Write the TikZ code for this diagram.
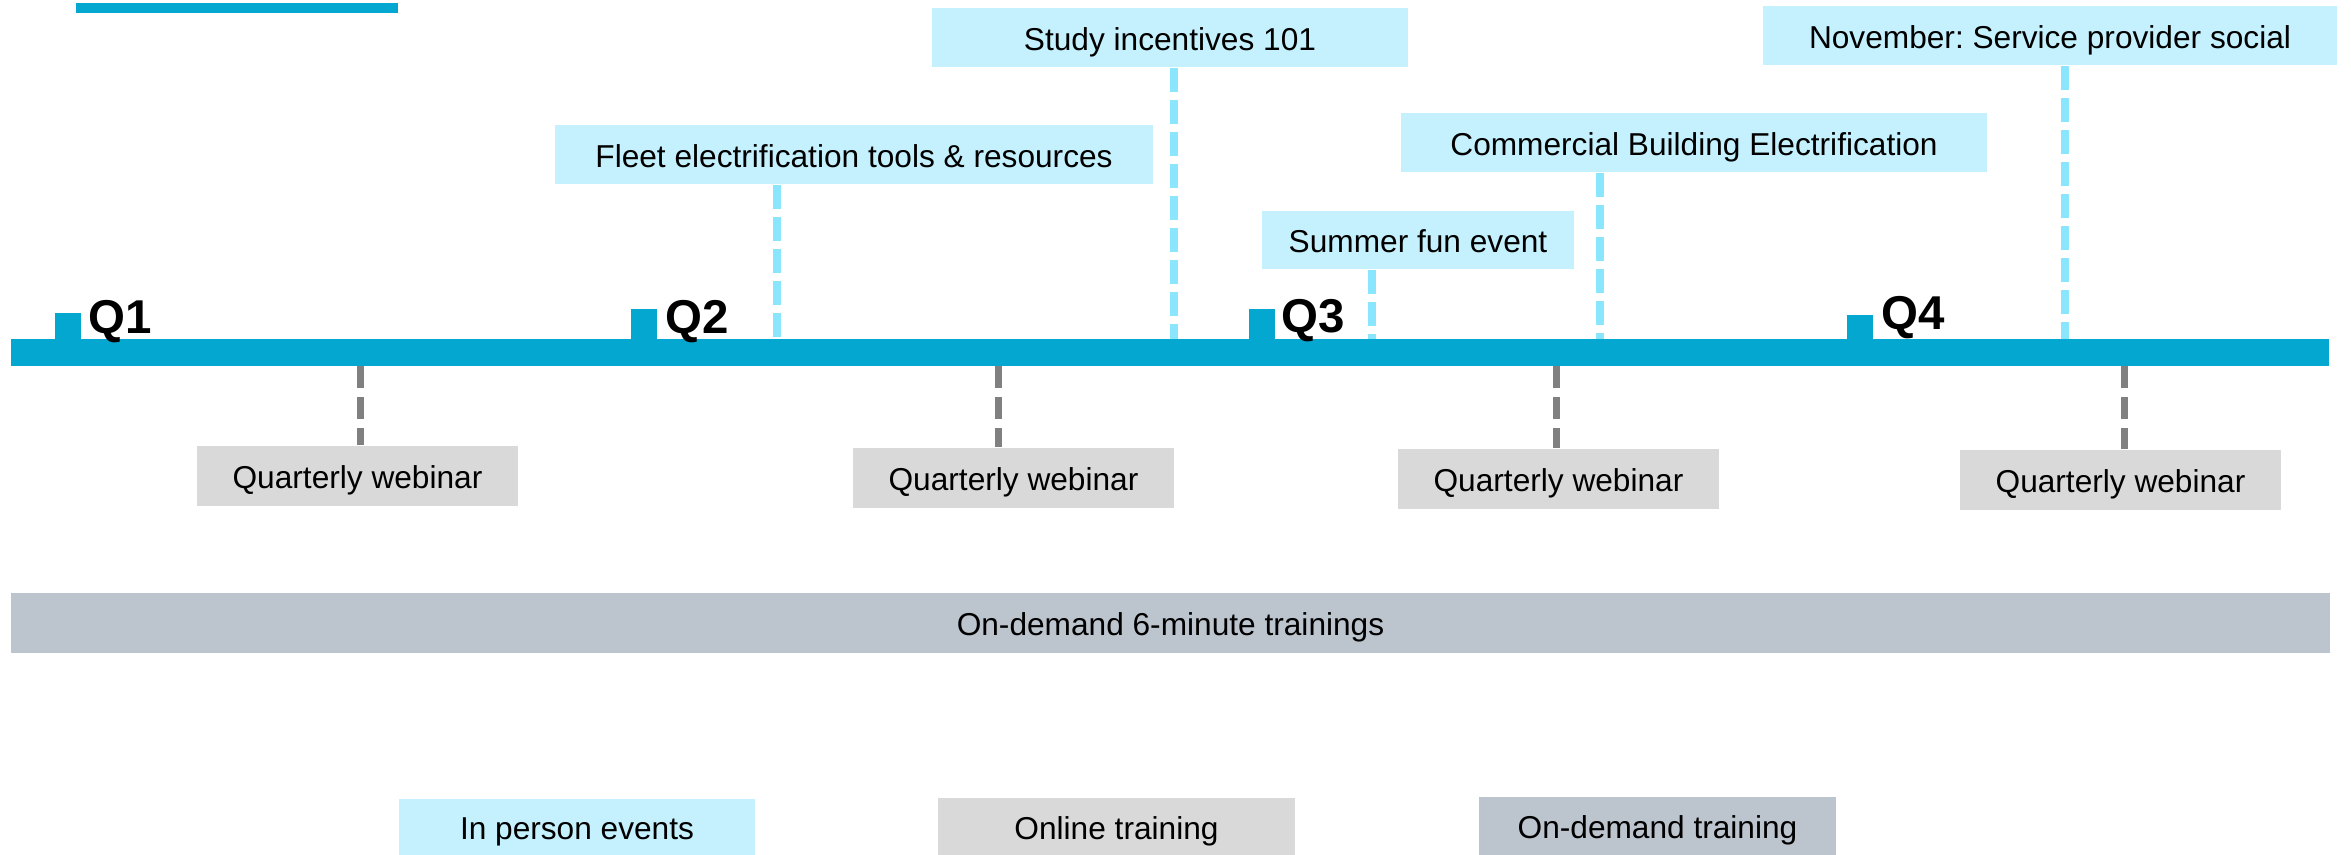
\documentclass[tikz,border=0pt]{standalone}
\usepackage{fontspec}
\setmainfont{Liberation Sans}
\frenchspacing
\definecolor{barblue}{HTML}{03A7CF}
\definecolor{evfill}{HTML}{C4F1FD}
\definecolor{evdash}{HTML}{8AE6FC}
\definecolor{webdash}{HTML}{808080}
\definecolor{onfill}{HTML}{D9D9D9}
\definecolor{odfill}{HTML}{BCC4CD}
\begin{document}
\begin{tikzpicture}[x=0.01cm,y=-0.01cm,
  box/.style={rectangle, inner sep=0pt, font=\fontsize{9}{11}\selectfont, text=black, text height=0.72em, text depth=0pt},
  event/.style={box, fill=evfill},
  online/.style={box, fill=onfill},
  ondem/.style={box, fill=odfill},
  evline/.style={draw=evdash, line width=0.08cm, dash pattern=on 0.24cm off 0.08cm},
  webline/.style={draw=webdash, line width=0.07cm, dash pattern=on 0.22cm off 0.09cm},
  qlabel/.style={font=\fontsize{13.5}{16}\selectfont\bfseries, anchor=base west, inner sep=0pt, text=black}]
\useasboundingbox (0,0) rectangle (2351,855);

% top accent line
\fill[barblue] (76,3) rectangle (398,13);

% main timeline bar
\node[rectangle, fill=barblue, inner sep=0pt, minimum width=23.16cm, minimum height=0.27cm] (bar) at (1170,352.5) {};

% quarter markers
\fill[barblue] (55,313) rectangle (81,352);
\fill[barblue] (631,309) rectangle (657,352);
\fill[barblue] (1249,309) rectangle (1275,352);
\fill[barblue] (1847,315) rectangle (1873,352);
\node[qlabel] (q1) at (88,334) {Q1};
\node[qlabel] (q2) at (665,334) {Q2};
\node[qlabel] (q3) at (1281,333) {Q3};
\node[qlabel] (q4) at (1881,330) {Q4};

% in person events
\node[event, minimum width=4.76cm, minimum height=0.59cm] (study) at (1170,37.5) {Study incentives 101};
\node[event, minimum width=5.98cm, minimum height=0.59cm] (fleet) at (854,154.5) {Fleet electrification tools \& resources};
\node[event, minimum width=5.86cm, minimum height=0.59cm] (comm) at (1694,142.5) {Commercial Building Electrification};
\node[event, minimum width=3.12cm, minimum height=0.58cm] (summer) at (1418,240) {Summer fun event};
\node[event, minimum width=5.74cm, minimum height=0.59cm] (nov) at (2050,35.5) {November: Service provider social};

\coordinate (e1) at (777,339);
\coordinate (e2) at (1174,339);
\coordinate (e3) at (1372,339);
\coordinate (e4) at (1600,339);
\coordinate (e5) at (2065,339);
\draw[evline] (fleet.south -| e1) -- (e1);
\draw[evline] (study.south -| e2) -- (e2);
\draw[evline] (summer.south -| e3) -- (e3);
\draw[evline] (comm.south -| e4) -- (e4);
\draw[evline] (nov.south -| e5) -- (e5);

% online webinars
\node[online, minimum width=3.21cm, minimum height=0.6cm] (web1) at (357.5,476) {Quarterly webinar};
\node[online, minimum width=3.21cm, minimum height=0.6cm] (web2) at (1013.5,478) {Quarterly webinar};
\node[online, minimum width=3.21cm, minimum height=0.6cm] (web3) at (1558.5,479) {Quarterly webinar};
\node[online, minimum width=3.21cm, minimum height=0.6cm] (web4) at (2120.5,480) {Quarterly webinar};

\coordinate (w1) at (360,366);
\coordinate (w2) at (998,366);
\coordinate (w3) at (1556,366);
\coordinate (w4) at (2124,366);
\draw[webline] (w1) -- (web1.north -| w1);
\draw[webline] (w2) -- (web2.north -| w2);
\draw[webline] (w3) -- (web3.north -| w3);
\draw[webline] (w4) -- (web4.north -| w4);

% on-demand bar
\node[ondem, minimum width=23.17cm, minimum height=0.6cm] (odbar) at (1170.5,623) {On-demand 6-minute trainings};

% legend
\node[event, minimum width=3.56cm, minimum height=0.56cm] (leg1) at (577,827) {In person events};
\node[online, minimum width=3.57cm, minimum height=0.57cm] (leg2) at (1116.5,826.5) {Online training};
\node[ondem, minimum width=3.57cm, minimum height=0.58cm] (leg3) at (1657.5,826) {On-demand training};
\end{tikzpicture}
\end{document}
